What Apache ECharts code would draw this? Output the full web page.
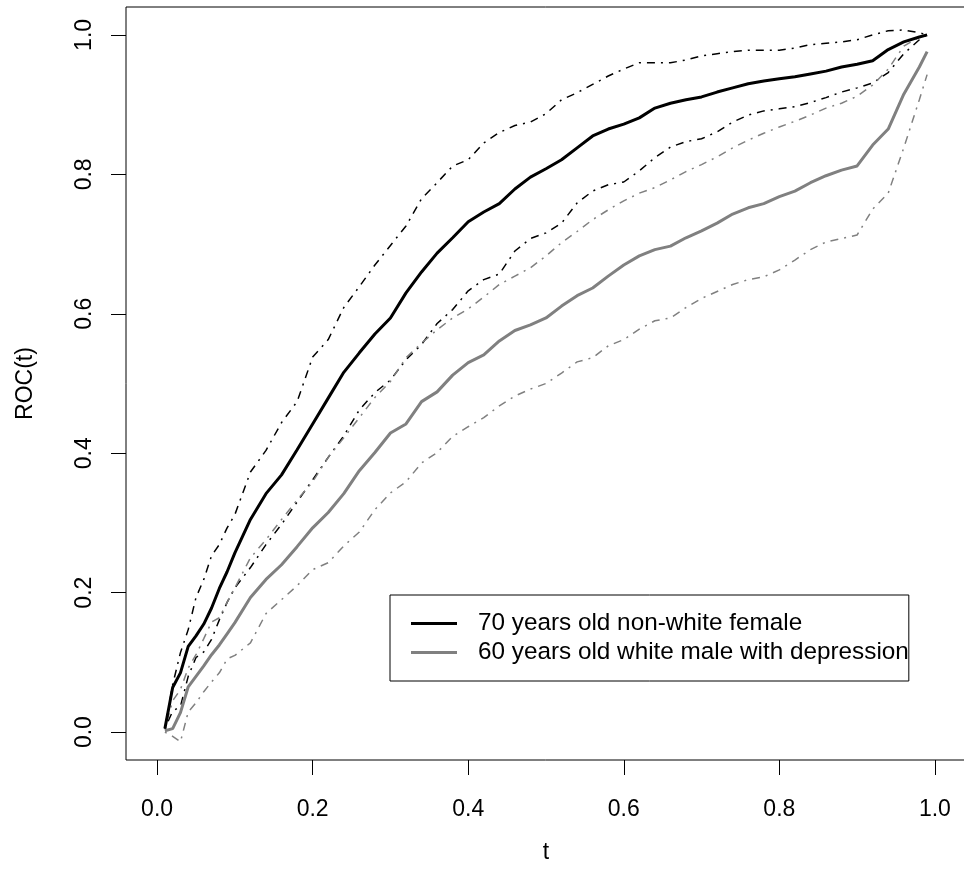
<!DOCTYPE html>
<html>
<head>
<meta charset="utf-8">
<script src="https://cdn.jsdelivr.net/npm/echarts@6/dist/echarts.min.js"></script>
<style>
  html, body { margin: 0; padding: 0; background: #fff; }
  #chart { width: 964px; height: 880px; }
</style>
</head>
<body>
<div id="chart"></div>
<script>
// time points
const tValues = [0.01, 0.02, 0.03, 0.04, 0.05, 0.06, 0.07, 0.08, 0.09, 0.10,
  0.12, 0.14, 0.16, 0.18, 0.20, 0.22, 0.24, 0.26, 0.28, 0.30,
  0.32, 0.34, 0.36, 0.38, 0.40, 0.42, 0.44, 0.46, 0.48, 0.50,
  0.52, 0.54, 0.56, 0.58, 0.60, 0.62, 0.64, 0.66, 0.68, 0.70,
  0.72, 0.74, 0.76, 0.78, 0.80, 0.82, 0.84, 0.86, 0.88, 0.90,
  0.92, 0.94, 0.96, 0.98, 0.99]

// 70 years old non-white female
const femaleROC = [0.005, 0.064, 0.085, 0.123, 0.138, 0.155, 0.178, 0.206, 0.230, 0.257,
  0.305, 0.342, 0.369, 0.405, 0.442, 0.479, 0.516, 0.544, 0.571, 0.594,
  0.630, 0.660, 0.687, 0.709, 0.732, 0.746, 0.758, 0.779, 0.796, 0.808,
  0.821, 0.838, 0.855, 0.865, 0.872, 0.881, 0.895, 0.902, 0.907, 0.911,
  0.918, 0.924, 0.930, 0.934, 0.937, 0.940, 0.944, 0.948, 0.954, 0.958,
  0.963, 0.979, 0.990, 0.997, 1.000]
const femaleUpper = [0.005, 0.068, 0.114, 0.147, 0.193, 0.219, 0.253, 0.269, 0.293, 0.312,
  0.373, 0.404, 0.444, 0.474, 0.538, 0.563, 0.609, 0.639, 0.670, 0.698,
  0.726, 0.765, 0.788, 0.812, 0.821, 0.845, 0.860, 0.870, 0.875, 0.887,
  0.907, 0.917, 0.929, 0.941, 0.951, 0.960, 0.960, 0.960, 0.964, 0.970,
  0.973, 0.976, 0.978, 0.978, 0.978, 0.981, 0.986, 0.988, 0.990, 0.993,
  1.000, 1.006, 1.007, 1.003, 1.000]
const femaleLower = [0.005, 0.030, 0.037, 0.080, 0.107, 0.115, 0.133, 0.161, 0.186, 0.207,
  0.236, 0.269, 0.298, 0.330, 0.362, 0.394, 0.425, 0.462, 0.487, 0.505,
  0.534, 0.556, 0.586, 0.606, 0.633, 0.649, 0.657, 0.690, 0.708, 0.716,
  0.730, 0.759, 0.776, 0.785, 0.789, 0.805, 0.824, 0.839, 0.847, 0.851,
  0.861, 0.875, 0.885, 0.891, 0.894, 0.897, 0.903, 0.910, 0.918, 0.924,
  0.931, 0.946, 0.973, 0.993, 1.000]

// 60 years old white male with depression
const maleROC = [0.002, 0.005, 0.028, 0.065, 0.080, 0.095, 0.111, 0.125, 0.141, 0.157,
  0.193, 0.219, 0.240, 0.266, 0.293, 0.315, 0.342, 0.375, 0.401, 0.429,
  0.442, 0.474, 0.488, 0.512, 0.530, 0.541, 0.561, 0.576, 0.584, 0.594,
  0.611, 0.626, 0.637, 0.654, 0.670, 0.683, 0.692, 0.697, 0.709, 0.719,
  0.730, 0.743, 0.752, 0.758, 0.768, 0.776, 0.788, 0.798, 0.806, 0.812,
  0.842, 0.865, 0.915, 0.954, 0.976]
const maleUpper = [0.005, 0.045, 0.061, 0.092, 0.111, 0.134, 0.158, 0.164, 0.186, 0.207,
  0.250, 0.276, 0.305, 0.333, 0.359, 0.394, 0.422, 0.451, 0.480, 0.503,
  0.537, 0.558, 0.577, 0.594, 0.607, 0.624, 0.642, 0.654, 0.666, 0.683,
  0.702, 0.718, 0.735, 0.749, 0.762, 0.773, 0.781, 0.792, 0.804, 0.814,
  0.825, 0.838, 0.849, 0.859, 0.868, 0.876, 0.885, 0.895, 0.902, 0.912,
  0.928, 0.951, 0.984, 0.997, 1.000]
const maleLower = [0.000, -0.006, -0.014, 0.029, 0.042, 0.058, 0.072, 0.085, 0.105, 0.110,
  0.128, 0.170, 0.190, 0.210, 0.233, 0.243, 0.267, 0.287, 0.319, 0.343,
  0.359, 0.386, 0.401, 0.424, 0.438, 0.451, 0.468, 0.482, 0.492, 0.500,
  0.515, 0.531, 0.537, 0.554, 0.563, 0.578, 0.590, 0.594, 0.609, 0.622,
  0.632, 0.642, 0.649, 0.653, 0.663, 0.677, 0.692, 0.703, 0.708, 0.713,
  0.750, 0.773, 0.838, 0.907, 0.943]

const xTicks = [0, 0.2, 0.4, 0.6, 0.8, 1.0]
const yTicks = [0, 0.2, 0.4, 0.6, 0.8, 1.0]

const FEMALE = '70 years old non-white female'
const MALE = '60 years old white male with depression'
const GREY = '#808080'
const FONT = 'Liberation Sans, Arial, Helvetica, sans-serif'

function pairs(ys) {
  return tValues.map((t, i) => [t, ys[i]])
}

function mainLine(name, ys, color) {
  return {
    name: name,
    type: 'line',
    data: pairs(ys),
    symbol: 'none',
    smooth: false,
    color: color,
    z: 3,
    lineStyle: { color: color, width: 3 }
  }
}

// dot-dash confidence bounds
function bandLine(name, ys, color) {
  return {
    name: name,
    type: 'line',
    data: pairs(ys),
    symbol: 'none',
    smooth: false,
    color: color,
    z: 2,
    lineStyle: { color: color, width: 1.5, type: [2, 6, 8, 6] }
  }
}

const chart = echarts.init(document.getElementById('chart'), null, { renderer: 'canvas' })

const option = {
  animation: false,
  backgroundColor: '#fff',
  textStyle: { fontFamily: FONT },
  grid: {
    left: 126,
    top: 7,
    width: 840,
    height: 753,
    outerBoundsMode: 'none',
    show: true,
    borderColor: '#000',
    borderWidth: 1,
    backgroundColor: 'transparent'
  },
  legend: {
    data: [
      { name: FEMALE, icon: 'rect' },
      { name: MALE, icon: 'rect' }
    ],
    orient: 'vertical',
    left: 390,
    top: 595,
    padding: [14, 0, 14, 21],
    itemGap: 0,
    itemWidth: 46,
    itemHeight: 3,
    borderColor: '#000',
    borderWidth: 1,
    backgroundColor: '#fff',
    textStyle: {
      fontFamily: FONT,
      fontSize: 24.3,
      color: '#000',
      lineHeight: 29,
      padding: [0, 0, 0, 16]
    }
  },
  xAxis: {
    type: 'value',
    min: -0.04,
    max: 1.04,
    name: 't',
    nameLocation: 'middle',
    nameGap: 81,
    nameTextStyle: { fontFamily: FONT, fontSize: 23, color: '#000' },
    axisLine: { show: false, onZero: false },
    splitLine: { show: false },
    axisTick: {
      show: true,
      inside: false,
      length: 15,
      customValues: xTicks,
      lineStyle: { color: '#000', width: 1 }
    },
    axisLabel: {
      customValues: xTicks,
      margin: 38,
      fontFamily: FONT,
      fontSize: 23,
      color: '#000',
      formatter: v => v.toFixed(1)
    }
  },
  yAxis: {
    type: 'value',
    min: -0.04,
    max: 1.04,
    name: 'ROC(t)',
    nameLocation: 'middle',
    nameRotate: 90,
    nameGap: 89,
    nameTextStyle: { fontFamily: FONT, fontSize: 23, color: '#000' },
    axisLine: { show: false, onZero: false },
    splitLine: { show: false },
    axisTick: {
      show: true,
      inside: false,
      length: 15,
      customValues: yTicks,
      lineStyle: { color: '#000', width: 1 }
    },
    axisLabel: {
      customValues: yTicks,
      rotate: 90,
      margin: 30,
      fontFamily: FONT,
      fontSize: 23,
      color: '#000',
      formatter: v => v.toFixed(1)
    }
  },
  series: [
    bandLine('female upper', femaleUpper, '#000'),
    bandLine('female lower', femaleLower, '#000'),
    bandLine('male upper', maleUpper, GREY),
    bandLine('male lower', maleLower, GREY),
    mainLine(MALE, maleROC, GREY),
    mainLine(FEMALE, femaleROC, '#000')
  ]
}

chart.setOption(option)
</script>
</body>
</html>
